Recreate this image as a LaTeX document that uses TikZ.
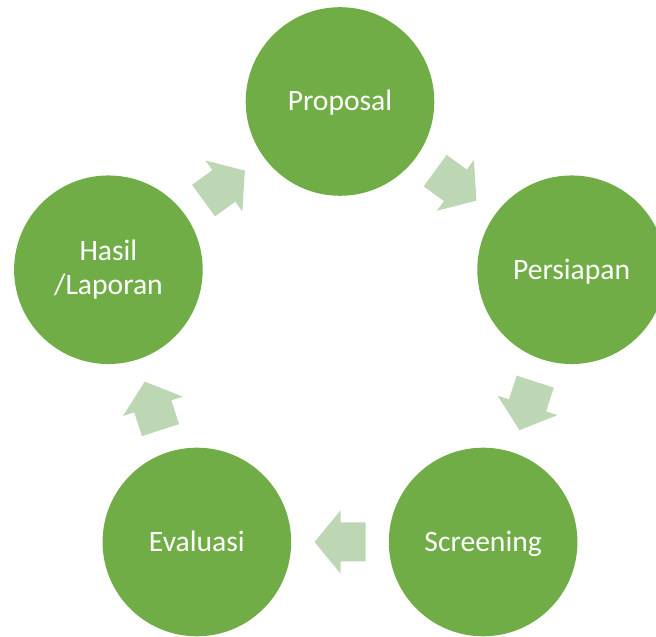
\documentclass[tikz,border=0pt]{standalone}
\usepackage{fontspec}
\setmainfont{Carlito}
\definecolor{cgreen}{RGB}{112,173,71}
\definecolor{carrow}{RGB}{189,214,180}
\begin{document}
\begin{tikzpicture}[x=1pt,y=1pt,
  bubble/.style={circle, fill=cgreen, minimum size=188.6pt, inner sep=0pt},
  lbl/.style={text=white, font=\fontsize{29.6}{33.3}\selectfont, align=center, inner sep=0pt},
  blockarrow/.pic={\fill[carrow] (-25.5,19.5) -- (-0.5,19.5) -- (-0.5,31.5) -- (25.5,0)
      -- (-0.5,-31.5) -- (-0.5,-19.5) -- (-25.5,-19.5) -- cycle;}]
\useasboundingbox (0,0) rectangle (656,637);
\clip (0,0) rectangle (656,637);
\coordinate (c) at (340,292);
% circles
\node[bubble] (prop) at ([shift={(90:243.5)}]c) {};
\node[bubble] (pers) at ([shift={(18:243.5)}]c) {};
\node[bubble] (scr)  at ([shift={(-54:243.5)}]c) {};
\node[bubble] (eval) at ([shift={(-126:243.5)}]c) {};
\node[bubble] (has)  at ([shift={(162:243.5)}]c) {};
% labels
\node[lbl, text height=19pt, text depth=0pt] (propt) at (prop) {Proposal};
\node[lbl, text height=19pt, text depth=0pt] (perst) at (pers) {Persiapan};
\node[lbl, text height=19pt, text depth=0pt] (scrt)  at (scr)  {Screening};
\node[lbl, text height=19pt, text depth=0pt] (evalt) at (eval) {Evaluasi};
\node[lbl] (hast) at (has) {Hasil\\/Laporan};
% block arrows
\pic[rotate=-36]  at ([shift={(54:197)}]c)   {blockarrow};
\pic[rotate=-108] at ([shift={(-18:197)}]c)  {blockarrow};
\pic[rotate=180]  at ([shift={(-90:197)}]c)  {blockarrow};
\pic[rotate=108]  at ([shift={(-162:197)}]c) {blockarrow};
\pic[rotate=36]   at ([shift={(126:197)}]c)  {blockarrow};
\end{tikzpicture}
\end{document}
